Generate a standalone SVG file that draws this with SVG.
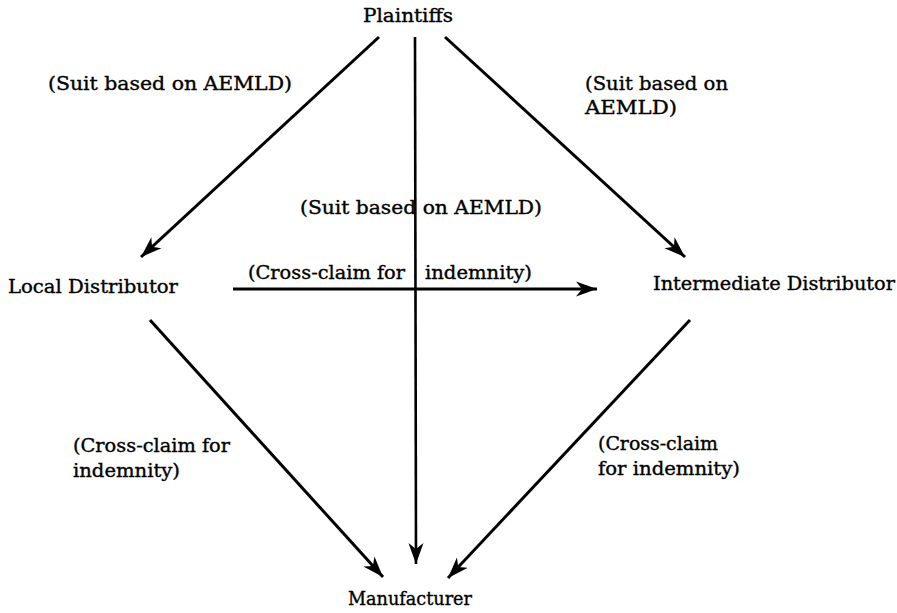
<svg xmlns="http://www.w3.org/2000/svg" width="897" height="613" viewBox="0 0 897 613">
<style>
text{font-family:"DejaVu Serif","Liberation Serif",serif;font-size:18px;fill:#000;stroke:#000;stroke-width:0.35}
.c{stroke:#000;stroke-width:3;fill:none;marker-end:url(#ah)}
</style>
<defs>
<marker id="ah" markerUnits="userSpaceOnUse" markerWidth="22" markerHeight="16" refX="21" refY="8" orient="auto">
<path d="M0,0.5 L21,8 L0,15.5 L6,8 Z" fill="#000"/>
</marker>
</defs>
<rect width="897" height="613" fill="#fff"/>
<g id="connectors">
<line class="c" x1="379" y1="37" x2="141" y2="257"/>
<line class="c" x1="415" y1="37" x2="416" y2="564" style="stroke-width:2.6"/>
<line class="c" x1="445" y1="37" x2="685" y2="257"/>
<line class="c" x1="233" y1="289" x2="597" y2="289"/>
<line class="c" x1="150" y1="320" x2="383" y2="577"/>
<line class="c" x1="690" y1="320" x2="448" y2="578"/>
</g>
<g id="labels">
<text x="48" y="90" textLength="244" lengthAdjust="spacingAndGlyphs">(Suit based on AEMLD)</text>
<text x="585" y="90" textLength="143" lengthAdjust="spacingAndGlyphs">(Suit based on</text>
<text x="585" y="114" textLength="92" lengthAdjust="spacingAndGlyphs">AEMLD)</text>
<text x="300" y="214" textLength="242" lengthAdjust="spacingAndGlyphs">(Suit based on AEMLD)</text>
<text x="248" y="279" textLength="157" lengthAdjust="spacingAndGlyphs">(Cross-claim for</text>
<text x="425" y="279" textLength="107" lengthAdjust="spacingAndGlyphs">indemnity)</text>
<text x="73" y="452" textLength="157" lengthAdjust="spacingAndGlyphs">(Cross-claim for</text>
<text x="73" y="477" textLength="107" lengthAdjust="spacingAndGlyphs">indemnity)</text>
<text x="598" y="450" textLength="120" lengthAdjust="spacingAndGlyphs">(Cross-claim</text>
<text x="598" y="475" textLength="142" lengthAdjust="spacingAndGlyphs">for indemnity)</text>
</g>
<g id="plaintiffs"><text x="363" y="22" textLength="90" lengthAdjust="spacingAndGlyphs">Plaintiffs</text></g>
<g id="local"><text x="8" y="293" textLength="170" lengthAdjust="spacingAndGlyphs">Local Distributor</text></g>
<g id="intermediate"><text x="653" y="290" textLength="242" lengthAdjust="spacingAndGlyphs">Intermediate Distributor</text></g>
<g id="manufacturer"><text x="348" y="605" textLength="124" lengthAdjust="spacingAndGlyphs">Manufacturer</text></g>
</svg>
